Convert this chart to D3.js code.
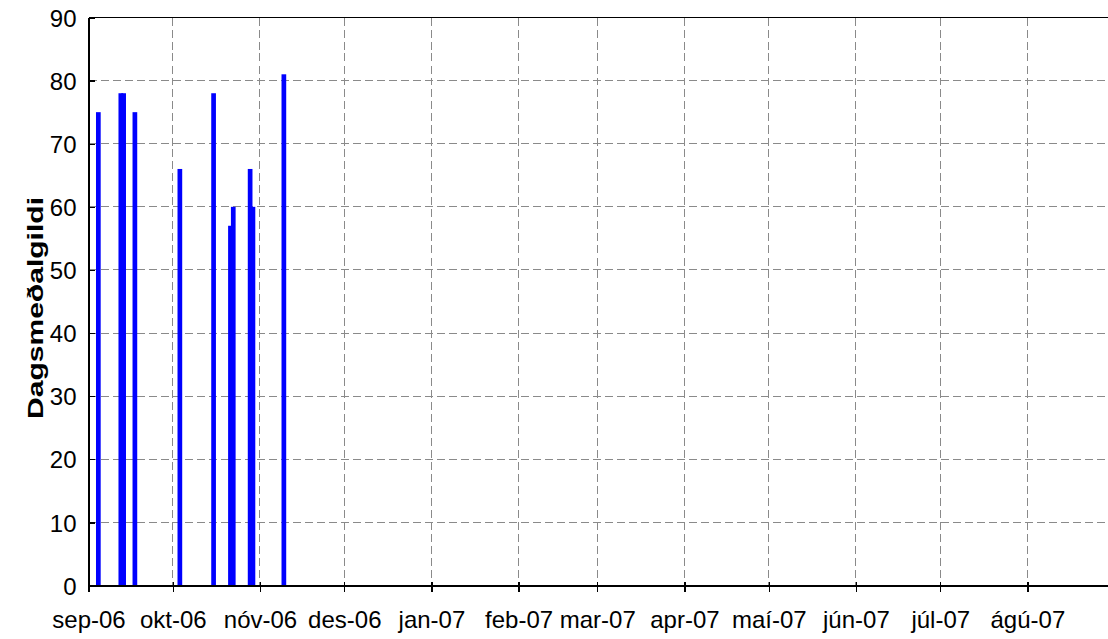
<!doctype html>
<html>
 <head>
  <meta charset='utf-8'>
  <title>Dagsmeðalgildi</title>
  <style>
    html,
    body{
      margin:0;
      width:100%;
      height:100%;
      background:white;
    }
    svg{
      display:block;
      font-family:'Liberation Sans',Arial,sans-serif;
    }
    .grid line{
      stroke:#8a8a8a;
      stroke-width:1px;
      stroke-dasharray:8,4;
      shape-rendering:crispEdges;
    }
    .axis path,
    .axis line{
      stroke:black;
      stroke-width:1.3px;
      shape-rendering:crispEdges;
    }
    .axis text{
      fill:black;
      font-size:24px;
    }
    .bar{
      fill:#0000ff;
    }
  </style>
 </head>
 <body>
  <svg id='chart' width='1108' height='639'></svg>
 </body>
</html>

<script src='https://cdn.jsdelivr.net/npm/d3@7/dist/d3.min.js'></script>
<script>

  // mæligildi (dagsetning, dagsmeðalgildi)
  var days   = ['2006-09-04','2006-09-12','2006-09-13','2006-09-17','2006-10-03',
                '2006-10-15','2006-10-21','2006-10-22','2006-10-28','2006-10-29','2006-11-09']
  var values = [75,78,78,75,66,78,57,60,66,60,81]

  // ás
  var months  = ['sep','okt','nóv','des','jan','feb','mar','apr','maí','jún','júl','ágú']
  var yTicks  = [0,10,20,30,40,50,60,70,80,90]
  var xDomain = ['2006-09-01','2007-09-01']
  var yTitle  = 'Dagsmeðalgildi'

  var parse = d3.utcParse('%Y-%m-%d')
  var data = days.map(function(d,i){
    return {date:parse(d),value:values[i]}
  })

  var svg = d3.select('#chart')
  var pLeft = 88.5, pRight = 1114.5, pTop = 17.5, pBottom = 585.5

  var x = d3.scaleUtc()
            .domain(xDomain.map(parse))
            .range([pLeft,pRight])
  var y = d3.scaleLinear()
            .domain([0,90])
            .range([pBottom,pTop])

  var dayW = x(parse('2006-09-02')) - x(parse('2006-09-01'))
  var barW = 4.7

  var tickDates = d3.utcMonth.range(parse('2006-09-01'),parse('2007-09-01'))

  /*
   * hnitanet
   */
  var grid = svg.append('g').attr('class','grid')
  grid.selectAll('.h')
      .data(yTicks.slice(1))
      .enter()
      .append('line')
      .attr('x1',pLeft).attr('x2',pRight)
      .attr('y1',function(d){ return y(d) })
      .attr('y2',function(d){ return y(d) })
  grid.selectAll('.v')
      .data(tickDates.slice(1))
      .enter()
      .append('line')
      .attr('y1',pTop).attr('y2',pBottom)
      .attr('x1',function(d){ return x(d) })
      .attr('x2',function(d){ return x(d) })

  // efri rammi
  svg.append('line')
     .attr('x1',pLeft).attr('x2',pRight)
     .attr('y1',pTop).attr('y2',pTop)
     .attr('stroke','black')
     .attr('stroke-width',1.3)
     .attr('shape-rendering','crispEdges')

  /*
   * súlur
   */
  svg.append('g')
     .selectAll('rect')
     .data(data)
     .enter()
     .append('rect')
     .attr('class','bar')
     .attr('x',function(d){ return x(d.date) + dayW/2 - barW/2 })
     .attr('width',barW)
     .attr('y',function(d){ return y(d.value) })
     .attr('height',function(d){ return y(0) - y(d.value) })

  /*
   * ásar
   */
  var xAxis = d3.axisBottom(x)
                .tickValues(tickDates)
                .tickSizeInner(6)
                .tickSizeOuter(0)
                .tickPadding(19)
                .tickFormat(function(d){
                  return months[(d.getUTCMonth()+4)%12] + '-' + d3.utcFormat('%y')(d)
                })
  var gx = svg.append('g')
     .attr('class','axis')
     .attr('transform','translate(0,' + pBottom + ')')
     .call(xAxis)
  gx.selectAll('.tick line').attr('y1',-4)

  var yAxis = d3.axisLeft(y)
                .tickValues(yTicks)
                .tickSizeInner(6)
                .tickSizeOuter(0)
                .tickPadding(6)
  var gy = svg.append('g')
     .attr('class','axis')
     .attr('transform','translate(' + pLeft + ',0)')
     .call(yAxis)
  gy.selectAll('.tick line').attr('x2',6)
  gy.selectAll('.tick text').attr('dy','0.36em')

  // titill lóðrétta áss, teygður eins og í frumritinu
  svg.append('text')
     .attr('transform','translate(' + 43 + ',' + 308 + ') rotate(-90)')
     .attr('text-anchor','middle')
     .attr('font-weight','bold')
     .attr('font-size',22)
     .attr('textLength',222)
     .attr('lengthAdjust','spacingAndGlyphs')
     .text(yTitle)

</script>
